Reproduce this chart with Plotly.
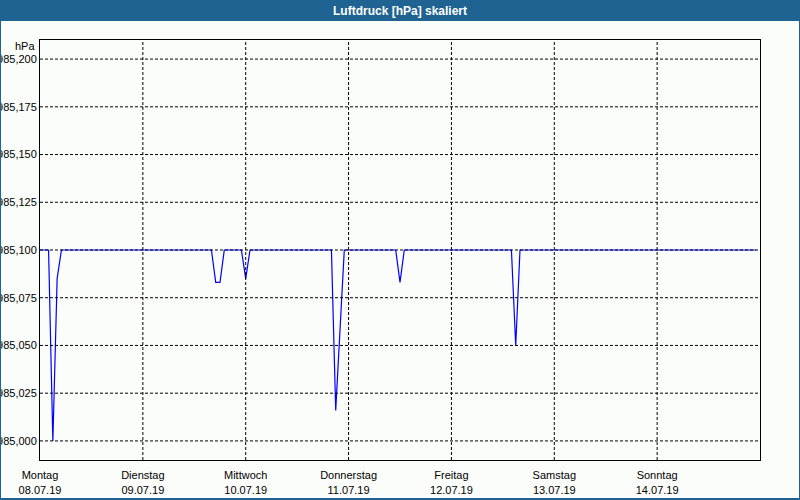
import plotly.graph_objects as go
import pandas as pd

# ---------------- data ----------------
title_text = "Luftdruck [hPa] skaliert"
unit_label = "hPa"

day_dates = ["2019-07-08", "2019-07-09", "2019-07-10", "2019-07-11",
             "2019-07-12", "2019-07-13", "2019-07-14"]
day_names = ["Montag", "Dienstag", "Mittwoch", "Donnerstag",
             "Freitag", "Samstag", "Sonntag"]
day_short = ["08.07.19", "09.07.19", "10.07.19", "11.07.19",
             "12.07.19", "13.07.19", "14.07.19"]

# hourly readings (00:00 .. 23:00) per day, hPa
mon = [985.100, 985.100, 985.100, 985.000, 985.085, 985.100, 985.100, 985.100,
       985.100, 985.100, 985.100, 985.100, 985.100, 985.100, 985.100, 985.100,
       985.100, 985.100, 985.100, 985.100, 985.100, 985.100, 985.100, 985.100]
tue = [985.100, 985.100, 985.100, 985.100, 985.100, 985.100, 985.100, 985.100,
       985.100, 985.100, 985.100, 985.100, 985.100, 985.100, 985.100, 985.100,
       985.100, 985.083, 985.083, 985.100, 985.100, 985.100, 985.100, 985.100]
wed = [985.085, 985.100, 985.100, 985.100, 985.100, 985.100, 985.100, 985.100,
       985.100, 985.100, 985.100, 985.100, 985.100, 985.100, 985.100, 985.100,
       985.100, 985.100, 985.100, 985.100, 985.100, 985.016, 985.058, 985.100]
thu = [985.100, 985.100, 985.100, 985.100, 985.100, 985.100, 985.100, 985.100,
       985.100, 985.100, 985.100, 985.100, 985.083, 985.100, 985.100, 985.100,
       985.100, 985.100, 985.100, 985.100, 985.100, 985.100, 985.100, 985.100]
fri = [985.100, 985.100, 985.100, 985.100, 985.100, 985.100, 985.100, 985.100,
       985.100, 985.100, 985.100, 985.100, 985.100, 985.100, 985.100, 985.050,
       985.100, 985.100, 985.100, 985.100, 985.100, 985.100, 985.100, 985.100]
sat = [985.100, 985.100, 985.100, 985.100, 985.100, 985.100, 985.100, 985.100,
       985.100, 985.100, 985.100, 985.100, 985.100, 985.100, 985.100, 985.100,
       985.100, 985.100, 985.100, 985.100, 985.100, 985.100, 985.100, 985.100]
sun = [985.100, 985.100, 985.100, 985.100, 985.100, 985.100, 985.100, 985.100,
       985.100, 985.100, 985.100, 985.100, 985.100, 985.100, 985.100, 985.100,
       985.100, 985.100, 985.100, 985.100, 985.100, 985.100, 985.100, 985.100]

y_ticks = [985.000, 985.025, 985.050, 985.075, 985.100,
           985.125, 985.150, 985.175, 985.200]
y_range = [984.99, 985.21]
x_range = ["2019-07-08 00:00", "2019-07-15 00:00"]

# ---------------- figure ----------------
values = mon + tue + wed + thu + fri + sat + sun
times = pd.date_range("2019-07-08 00:00", periods=len(values), freq="h")
tick_text = [f"{n}<br>{d}" for n, d in zip(day_names, day_short)]

BG = "#fbfdfb"
FRAME = "#1f6393"
FONT = "Liberation Sans"

fig = go.Figure()
fig.add_trace(go.Scatter(x=times, y=values, mode="lines",
                         line=dict(color="#0000ff", width=1.2),
                         hoverinfo="x+y"))

# plot area in pixels: x 40..760, y 40..460
def px_x(p):
    return (p - 40) / 720.0

def px_y(p):
    return (460 - p) / 420.0

shapes = []
grid_line = dict(color="black", width=1, dash="3px,2px")
for v in y_ticks:
    shapes.append(dict(type="line", xref="paper", yref="y", x0=0, x1=1,
                       y0=v, y1=v, line=grid_line, layer="above"))
for d in day_dates[1:]:
    shapes.append(dict(type="line", xref="x", yref="paper", x0=d, x1=d,
                       y0=0, y1=1, line=grid_line, layer="above"))

# window frame: title bar and thin borders
frame = dict(type="rect", xref="paper", yref="paper", fillcolor=FRAME,
             line=dict(width=0), layer="above")
shapes.append(dict(frame, x0=px_x(-5), x1=px_x(805), y0=px_y(21), y1=px_y(-5)))
shapes.append(dict(frame, x0=px_x(-5), x1=px_x(1), y0=px_y(505), y1=px_y(-5)))
shapes.append(dict(frame, x0=px_x(799), x1=px_x(805), y0=px_y(505), y1=px_y(-5)))
shapes.append(dict(frame, x0=px_x(-5), x1=px_x(805), y0=px_y(505), y1=px_y(498)))

fig.update_layout(
    width=800, height=500,
    margin=dict(l=40, r=40, t=40, b=40, pad=0),
    paper_bgcolor=BG, plot_bgcolor=BG,
    separators=",.",
    showlegend=False,
    font=dict(family=FONT, size=11, color="black"),
    title=dict(text=f"<b>{title_text}</b>", x=0.5, xref="container",
               xanchor="center", y=1 - 10.5 / 500, yref="container",
               yanchor="middle",
               font=dict(family=FONT, size=12, color="white")),
    shapes=shapes,
    annotations=[dict(text=unit_label, xref="paper", yref="paper",
                      x=px_x(37), y=px_y(46), xanchor="right",
                      yanchor="middle", showarrow=False,
                      font=dict(family=FONT, size=11, color="black"))],
    xaxis=dict(type="date", range=x_range, tickvals=day_dates,
               ticktext=tick_text, showgrid=False, zeroline=False,
               automargin=False, ticklabelstandoff=5,
               showline=True, mirror=True, linecolor="black", linewidth=1,
               ticks="", tickfont=dict(family=FONT, size=11, color="black")),
    yaxis=dict(range=y_range, tickvals=y_ticks, tickformat=".3f",
               automargin=False,
               showgrid=False, zeroline=False, showline=True, mirror=True,
               linecolor="black", linewidth=1, ticks="",
               tickfont=dict(family=FONT, size=11, color="black")),
)

fig.write_html("out.html",
               config={"displayModeBar": False},
               post_script="document.body.style.margin='0';")
